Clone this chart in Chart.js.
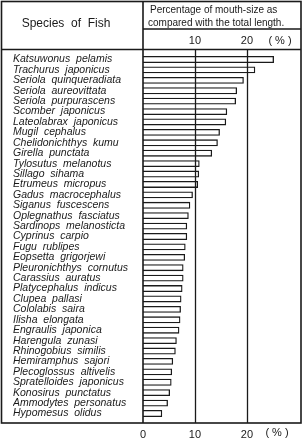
<!DOCTYPE html>
<html>
<head>
<meta charset="utf-8">
<script src="https://cdn.jsdelivr.net/npm/chart.js@4"></script>
<style>
  html, body { margin: 0; padding: 0; background: #fff; }
</style>
</head>
<body>
<canvas id="mouthChart" width="304" height="442"></canvas>
<script>
var species = [
    'Katsuwonus  pelamis', 'Trachurus  japonicus', 'Seriola  quinqueradiata',
    'Seriola  aureovittata', 'Seriola  purpurascens', 'Scomber  japonicus',
    'Lateolabrax  japonicus', 'Mugil  cephalus', 'Chelidonichthys  kumu',
    'Girella  punctata', 'Tylosutus  melanotus', 'Sillago  sihama',
    'Etrumeus  micropus', 'Gadus  macrocephalus', 'Siganus  fuscescens',
    'Oplegnathus  fasciatus', 'Sardinops  melanosticta', 'Cyprinus  carpio',
    'Fugu  rublipes', 'Eopsetta  grigorjewi', 'Pleuronichthys  cornutus',
    'Carassius  auratus', 'Platycephalus  indicus', 'Clupea  pallasi',
    'Cololabis  saira', 'Ilisha  elongata', 'Engraulis  japonica',
    'Harengula  zunasi', 'Rhinogobius  similis', 'Hemiramphus  sajori',
    'Plecoglossus  altivelis', 'Spratelloides  japonicus', 'Konosirus  punctatus',
    'Ammodytes  personatus', 'Hypomesus  olidus'
];
var mouthSize = [
    25.2, 21.6, 19.4, 18.1, 17.9, 16.2, 16.0, 14.8, 14.4,
    13.3, 10.9, 10.8, 10.6, 9.6, 9.1, 8.8, 8.5, 8.5,
    8.2, 8.1, 7.8, 7.8, 7.6, 7.4, 7.3, 7.2, 7.0,
    6.5, 6.3, 5.8, 5.6, 5.5, 5.2, 4.8, 3.7
];
var bottomTicks = [0, 10, 20];
var gridValues = [10, 20];

var ink = '#1a1a1a';

// table frame, header texts and the 10/20 rules
var tableFrame = {
    id: 'tableFrame',
    afterDraw: function (chart) {
        var c = chart.ctx;
        var xs = chart.scales.x;
        var area = chart.chartArea;
        var left = 1.5, right = area.right, top = 1.5, bottom = 423;
        var headY = 49.5, subY = 29;
        var zeroX = xs.getPixelForValue(0);

        c.save();
        c.strokeStyle = ink;
        c.lineWidth = 1.6;
        c.strokeRect(left, top, right - left, bottom - top);

        c.beginPath();
        c.moveTo(zeroX, top); c.lineTo(zeroX, bottom);
        c.moveTo(left, headY); c.lineTo(right, headY);
        c.moveTo(zeroX, subY); c.lineTo(right, subY);
        c.stroke();

        c.lineWidth = 1.3;
        c.beginPath();
        gridValues.forEach(function (v) {
            var gx = Math.round(xs.getPixelForValue(v)) + 0.5;
            c.moveTo(gx, headY); c.lineTo(gx, bottom);
        });
        c.stroke();

        c.fillStyle = ink;
        c.textBaseline = 'middle';
        c.textAlign = 'center';
        c.font = '12px "Liberation Sans"';
        c.fillText('Species  of  Fish', 66, 24);

        c.textAlign = 'left';
        c.font = '10px "Liberation Sans"';
        c.fillText('Percentage of mouth-size as', 150, 10);
        c.fillText('compared with the total length.', 148, 23);

        c.textAlign = 'center';
        c.font = '11px "Liberation Sans"';
        gridValues.forEach(function (v) {
            c.fillText(String(v), xs.getPixelForValue(v), 41);
        });
        c.fillText('( % )', 280, 41);
        c.fillText('( % )', 277, 433);
        c.restore();
    }
};

var ctx = document.getElementById('mouthChart').getContext('2d');
var mouthChart = new Chart(ctx, {
    type: 'bar',
    data: {
        labels: species,
        datasets: [{
            label: 'Mouth size (% of total length)',
            data: mouthSize,
            backgroundColor: 'rgba(255, 255, 255, 0)',
            borderColor: ink,
            borderWidth: 1.3,
            barPercentage: 0.66,
            categoryPercentage: 1.0
        }]
    },
    options: {
        indexAxis: 'y',
        responsive: false,
        animation: false,
        layout: {
            padding: { top: 54.3, left: 13, right: 3, bottom: 0 }
        },
        plugins: {
            legend: { display: false },
            tooltip: { enabled: false }
        },
        scales: {
            x: {
                type: 'linear',
                min: 0,
                max: 30.4,
                afterFit: function (scale) { scale.height = 23.3; },
                afterBuildTicks: function (scale) {
                    scale.ticks = bottomTicks.map(function (v) { return { value: v }; });
                },
                grid: { display: false },
                border: { display: false },
                ticks: {
                    padding: 2,
                    color: ink,
                    font: { family: '"Liberation Sans"', size: 11 }
                }
            },
            y: {
                afterFit: function (scale) { scale.width = 130; },
                grid: { display: false },
                border: { display: false },
                ticks: {
                    autoSkip: false,
                    crossAlign: 'far',
                    padding: 0,
                    color: ink,
                    font: { family: '"Liberation Sans"', size: 10.5, style: 'italic' }
                }
            }
        }
    },
    plugins: [tableFrame]
});
</script>
</body>
</html>
